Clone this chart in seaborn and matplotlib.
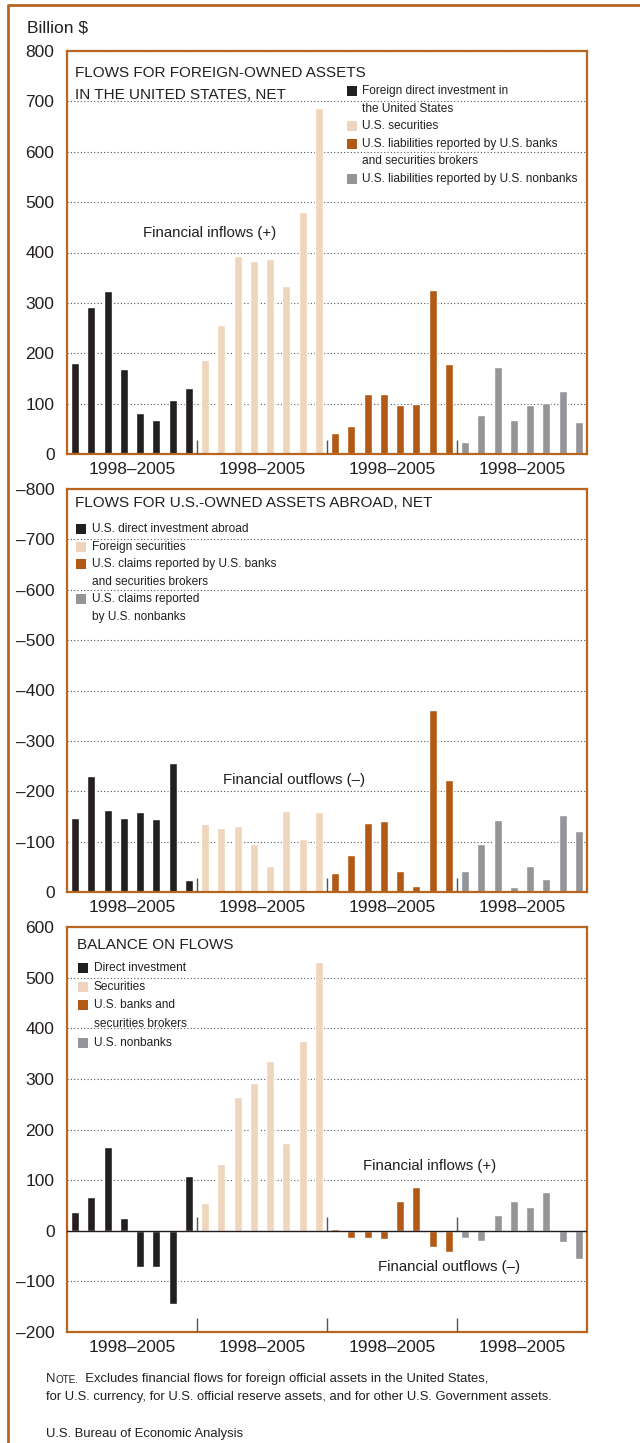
import matplotlib
matplotlib.use("Agg")
import matplotlib.pyplot as plt
from matplotlib.patches import Rectangle
from matplotlib.lines import Line2D
import seaborn as sns
import pandas as pd

# ---------------- data ----------------
period_label = "1998–2005"
n_years = 8

inflow_names = ["Foreign direct investment in the United States", "U.S. securities",
                "U.S. liabilities reported by U.S. banks and securities brokers",
                "U.S. liabilities reported by U.S. nonbanks"]
inflow_fdi = [180, 291, 323, 168, 82, 68, 108, 131]
inflow_sec = [187, 257, 393, 383, 387, 333, 480, 686]
inflow_banks = [41, 56, 119, 120, 97, 99, 325, 178]
inflow_nonbanks = [24, 78, 173, 68, 97, 101, 125, 64]

outflow_names = ["U.S. direct investment abroad", "Foreign securities",
                 "U.S. claims reported by U.S. banks and securities brokers",
                 "U.S. claims reported by U.S. nonbanks"]
outflow_dia = [-146, -230, -162, -146, -158, -144, -257, -24]
outflow_sec = [-135, -127, -131, -95, -51, -160, -106, -158]
outflow_banks = [-38, -73, -136, -140, -41, -11, -361, -223]
outflow_nonbanks = [-41, -96, -142, -9, -51, -25, -153, -122]

balance_names = ["Direct investment", "Securities", "U.S. banks and securities brokers", "U.S. nonbanks"]
bal_direct = [37, 66, 165, 26, -72, -72, -145, 109]
bal_sec = [55, 132, 264, 291, 336, 174, 375, 530]
bal_banks = [4, -15, -15, -17, 59, 87, -33, -42]
bal_nonbanks = [-14, -21, 32, 58, 46, 76, -23, -55]

colors = ["#231f20", "#efd5bd", "#b25a15", "#939598"]
frame_col = "#b8651f"
text_col = "#231f20"

sns.set_style("white")
plt.rcParams["font.family"] = ["Liberation Sans", "DejaVu Sans"]

W, H = 640, 1443
fig = plt.figure(figsize=(W / 100, H / 100), dpi=100)


def fx(px):
    return px / W


def fy(py):
    return 1 - py / H


def ftext(px, py, s, size, **kw):
    kw.setdefault("ha", "left")
    kw.setdefault("va", "center")
    return fig.text(fx(px), fy(py), s, fontsize=size, color=text_col,
                    transform=fig.transFigure, **kw)


def make_df(series_list, names):
    rows = []
    for g, (vals, name) in enumerate(zip(series_list, names)):
        for i, v in enumerate(vals):
            rows.append({"slot": g * n_years + i, "value": v, "series": name})
    return pd.DataFrame(rows)


def panel(top, bottom, series_list, names, ylim, ticks, zero_line=False):
    ax = fig.add_axes([fx(67), fy(bottom), fx(587) - fx(67), (bottom - top) / H])
    df = make_df(series_list, names)
    n = len(series_list) * n_years
    sns.barplot(data=df, x="slot", y="value", hue="series", order=list(range(n)),
                hue_order=names, palette=dict(zip(names, colors)), dodge=False,
                width=0.5, saturation=1, legend=False, ax=ax, zorder=2)
    ax.set_xlim(-0.5, n - 0.5)
    ax.set_ylim(*ylim)
    ax.set_yticks(ticks, labels=[str(t).replace("-", "–") for t in ticks])
    centers = [g * n_years + (n_years - 1) / 2 for g in range(len(series_list))]
    ax.set_xticks(centers, labels=[period_label] * len(centers))
    ax.tick_params(axis="both", length=0, labelsize=12.5, colors=text_col)
    ax.tick_params(axis="y", pad=9)
    ax.tick_params(axis="x", pad=6)
    ax.set_xlabel("")
    ax.set_ylabel("")
    ax.set_axisbelow(True)
    ax.yaxis.grid(True, linestyle=(0, (1, 2)), color="#555555", lw=0.8)
    ax.xaxis.grid(False)
    for sp in ax.spines.values():
        sp.set_visible(True)
        sp.set_color(frame_col)
        sp.set_linewidth(1.6)
    span = abs(ylim[1] - ylim[0])
    sep_len = span * 0.035
    seps = [g * n_years - 0.5 for g in range(1, len(series_list))]
    direction = 1 if ylim[1] > ylim[0] else -1
    ax.vlines(seps, 0, direction * sep_len, color="#555555", lw=1, zorder=3)
    if zero_line:
        ax.axhline(0, color=text_col, lw=1.0, zorder=3)
        low = min(ylim)
        ax.vlines(seps, low, low + sep_len, color="#555555", lw=1, zorder=3)
    return ax


def legend(x_sq, x_txt, y0, step, entries, size=8.6, sq=10):
    y = y0
    for col, lines in entries:
        fig.add_artist(Rectangle((fx(x_sq), fy(y + sq / 2)), sq / W, sq / H, color=col,
                                 transform=fig.transFigure, lw=0))
        for ln in lines:
            ftext(x_txt, y, ln, size)
            y += step


# ---------------- panel 1 ----------------
ax1 = panel(51, 454, [inflow_fdi, inflow_sec, inflow_banks, inflow_nonbanks], inflow_names,
            (0, 800), list(range(0, 801, 100)))
ftext(75, 73, "FLOWS FOR FOREIGN-OWNED ASSETS", 11)
ftext(75, 95, "IN THE UNITED STATES, NET", 11)
legend(347, 362, 91, 17.6, [
    (colors[0], ["Foreign direct investment in", "the United States"]),
    (colors[1], ["U.S. securities"]),
    (colors[2], ["U.S. liabilities reported by U.S. banks", "and securities brokers"]),
    (colors[3], ["U.S. liabilities reported by U.S. nonbanks"]),
])
ftext(210, 233, "Financial inflows (+)", 10.8, ha="center")

# ---------------- panel 2 ----------------
ax2 = panel(489, 892, [outflow_dia, outflow_sec, outflow_banks, outflow_nonbanks], outflow_names,
            (0, -800), list(range(-800, 1, 100)))
ftext(75, 503, "FLOWS FOR U.S.-OWNED ASSETS ABROAD, NET", 11)
legend(76, 92, 529, 17.6, [
    (colors[0], ["U.S. direct investment abroad"]),
    (colors[1], ["Foreign securities"]),
    (colors[2], ["U.S. claims reported by U.S. banks", "and securities brokers"]),
    (colors[3], ["U.S. claims reported", "by U.S. nonbanks"]),
])
ftext(294, 780, "Financial outflows (–)", 10.8, ha="center")

# ---------------- panel 3 ----------------
ax3 = panel(927, 1332, [bal_direct, bal_sec, bal_banks, bal_nonbanks], balance_names,
            (-200, 600), list(range(-200, 601, 100)), zero_line=True)
ftext(77, 945, "BALANCE ON FLOWS", 11)
legend(78, 94, 968, 18.7, [
    (colors[0], ["Direct investment"]),
    (colors[1], ["Securities"]),
    (colors[2], ["U.S. banks and", "securities brokers"]),
    (colors[3], ["U.S. nonbanks"]),
])
ftext(430, 1166, "Financial inflows (+)", 10.8, ha="center")
ftext(449, 1267, "Financial outflows (–)", 10.8, ha="center")

# ---------------- outer text ----------------
ftext(27, 28, "Billion $", 12.5)
note_size = 9.4
t_n = ftext(46, 1382, "N", note_size, va="baseline")
ann1 = fig.text(0, 0, "OTE.", fontsize=note_size * 0.76, color=text_col)
ann1.set_visible(False)
ann1 = plt.annotate("OTE.", xy=(1, 0), xycoords=t_n, fontsize=note_size * 0.76, color=text_col,
                    va="bottom", ha="left", annotation_clip=False)
plt.annotate("  Excludes financial flows for foreign official assets in the United States,",
             xy=(1, 0), xycoords=ann1, fontsize=note_size, color=text_col, va="bottom",
             ha="left", annotation_clip=False)
ftext(46, 1397, "for U.S. currency, for U.S. official reserve assets, and for other U.S. Government assets.",
      note_size)
ftext(46, 1434, "U.S. Bureau of Economic Analysis", note_size)

fig.add_artist(Line2D([fx(8), fx(8), 1.0], [0, fy(5), fy(5)], color=frame_col, lw=2,
                      transform=fig.transFigure))

fig.savefig("out.png", dpi=100, facecolor="white")
